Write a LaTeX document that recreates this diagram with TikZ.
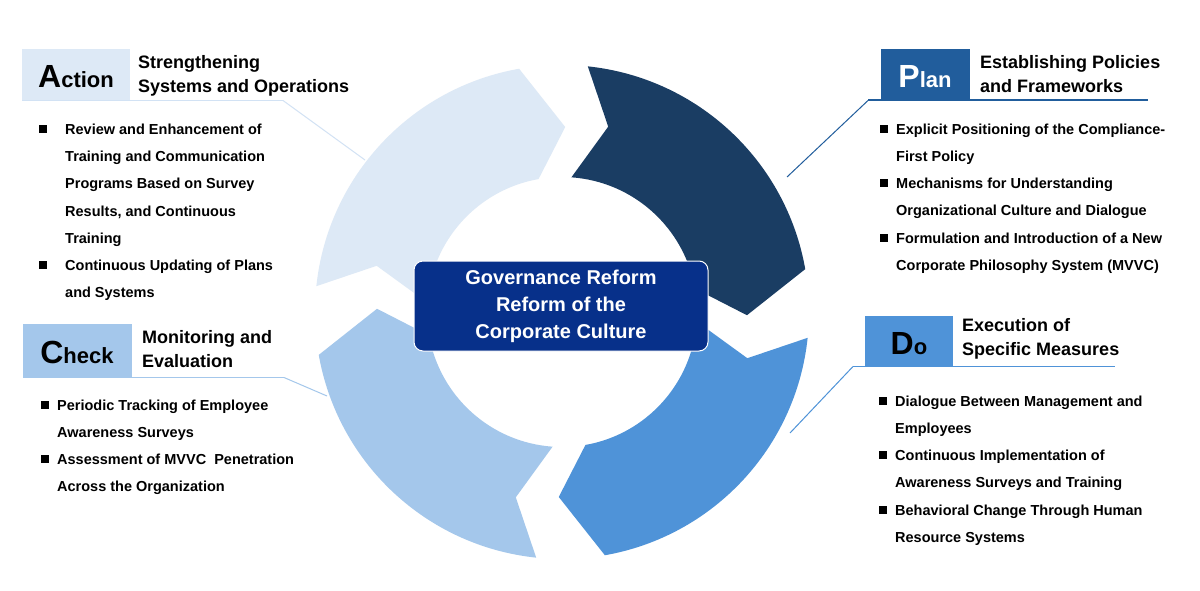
\documentclass[tikz,border=0pt]{standalone}
\usepackage{fontspec}
\setmainfont{Liberation Sans}
\definecolor{cPlan}{HTML}{1A3D63}
\definecolor{cDo}{HTML}{4F93D8}
\definecolor{cCheck}{HTML}{A4C7EB}
\definecolor{cAct}{HTML}{DDE9F6}
\definecolor{cPlanBox}{HTML}{215D9C}
\definecolor{cCenter}{HTML}{07308A}
\newcommand{\arrowseg}[2]{%
  \fill[#2] (#1+84:247) arc[start angle=#1+84, end angle=#1+10, radius=247]
    -- (#1-1:185) -- (#1+10:135) arc[start angle=#1+10, end angle=#1+86, radius=135]
    -- (#1+76:191) -- cycle;}
\tikzset{
  item/.style={anchor=north west, align=left, inner sep=0pt, font=\fontsize{14.5}{27.3}\selectfont\bfseries},
  title/.style={anchor=north west, align=left, inner sep=0pt, font=\fontsize{18}{24}\selectfont\bfseries},
  bul/.style={fill=black, minimum size=8pt, inner sep=0pt},
  big/.style={inner sep=0pt, anchor=base, font=\bfseries},
}
\begin{document}
\begin{tikzpicture}[x=1pt,y=-1pt]
\useasboundingbox[fill=white] (0,0) rectangle (1200,591);
\begin{scope}[shift={(562,312)}, yscale=-1]
  \arrowseg{0}{cPlan}
  \arrowseg{-90}{cDo}
  \arrowseg{-180}{cCheck}
  \arrowseg{90}{cAct}
\end{scope}
\node[fill=cCenter, draw=white, line width=1pt, rounded corners=9pt, minimum width=294pt, minimum height=90pt, align=center, text=white, font=\fontsize{20}{27}\selectfont\bfseries] (center) at (561,306) {Governance Reform\\Reform of the\\Corporate Culture};

% Action
\fill[cAct] (22,49) rectangle (130,100);
\node[big] (actL) at (76,88) {\fontsize{32}{32}\selectfont A\fontsize{22}{22}\selectfont ction};
\coordinate (actU1) at (22,100.5); \coordinate (actU2) at (283,100.5); \coordinate (actE) at (365,160);
\draw[color=cAct!80!cCheck, line width=1.5pt] (actU1) -- (actU2);
\draw[color=cAct!80!cCheck, line width=1pt] (actU2) -- (actE);
\node[title] (actT) at (138,55.5) {Strengthening\\Systems and Operations};
\node[bul] (ab1) at (43,129) {}; \node[item] (ai1) at (65,123.5) {Review and Enhancement of\\Training and Communication\\Programs Based on Survey\\Results, and Continuous\\Training};
\node[bul] (ab2) at (43,265) {}; \node[item] (ai2) at (65,259.5) {Continuous Updating of Plans\\and Systems};

% Plan
\fill[cPlanBox] (881,49) rectangle (970,100);
\node[big, text=white] (planL) at (925,88) {\fontsize{32}{32}\selectfont P\fontsize{22}{22}\selectfont lan};
\coordinate (planU1) at (868,100.5); \coordinate (planU2) at (1148,100.5); \coordinate (planE) at (787,177);
\draw[cPlanBox, line width=2pt] (planU1) -- (planU2);
\draw[cPlanBox, line width=1pt] (planU1) -- (planE);
\node[title] (planT) at (980,55.5) {Establishing Policies\\and Frameworks};
\node[bul] (pb1) at (884,129) {}; \node[item] (pi1) at (896,123.5) {Explicit Positioning of the Compliance-\\First Policy};
\node[bul] (pb2) at (884,183) {}; \node[item] (pi2) at (896,177.5) {Mechanisms for Understanding\\Organizational Culture and Dialogue};
\node[bul] (pb3) at (884,238) {}; \node[item] (pi3) at (896,232.5) {Formulation and Introduction of a New\\Corporate Philosophy System (MVVC)};

% Check
\fill[cCheck] (23,324) rectangle (132,377);
\node[big] (chkL) at (77,363) {\fontsize{32}{32}\selectfont C\fontsize{22}{22}\selectfont heck};
\coordinate (chkU1) at (23,377.5); \coordinate (chkU2) at (284,377.5); \coordinate (chkE) at (327,396);
\draw[cCheck, line width=1.5pt] (chkU1) -- (chkU2);
\draw[cCheck, line width=1pt] (chkU2) -- (chkE);
\node[title] (chkT) at (142,330.5) {Monitoring and\\Evaluation};
\node[bul] (cb1) at (45,405) {}; \node[item] (ci1) at (57,399.5) {Periodic Tracking of Employee\\Awareness Surveys};
\node[bul] (cb2) at (45,459) {}; \node[item] (ci2) at (57,453.5) {Assessment of MVVC\ \ Penetration\\Across the Organization};

% Do
\fill[cDo] (865,316) rectangle (953,366);
\node[big] (doL) at (909,354) {\fontsize{32}{32}\selectfont D\fontsize{22}{22}\selectfont o};
\coordinate (doU1) at (853,366.5); \coordinate (doU2) at (1115,366.5); \coordinate (doE) at (790,433);
\draw[cDo, line width=1.5pt] (doU1) -- (doU2);
\draw[cDo, line width=1pt] (doU1) -- (doE);
\node[title] (doT) at (962,318.5) {Execution of\\Specific Measures};
\node[bul] (db1) at (883,401) {}; \node[item] (di1) at (895,395.5) {Dialogue Between Management and\\Employees};
\node[bul] (db2) at (883,455) {}; \node[item] (di2) at (895,449.5) {Continuous Implementation of\\Awareness Surveys and Training};
\node[bul] (db3) at (883,510) {}; \node[item] (di3) at (895,504.5) {Behavioral Change Through Human\\Resource Systems};
\end{tikzpicture}
\end{document}
